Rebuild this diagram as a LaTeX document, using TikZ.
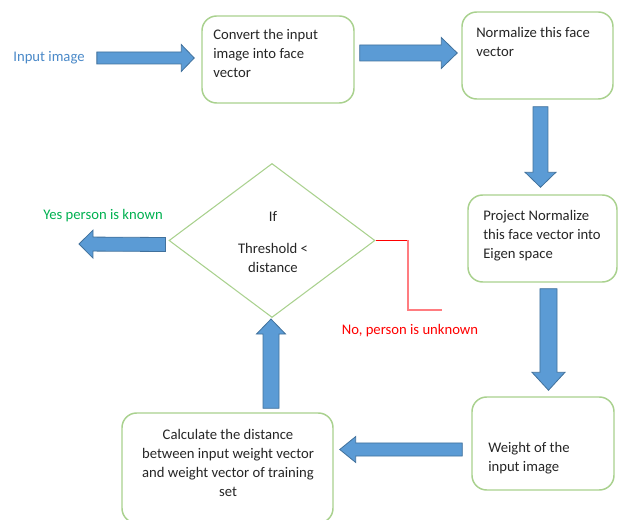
\documentclass[tikz,border=0pt]{standalone}
\usepackage{fontspec}
\setmainfont{Carlito}
\usetikzlibrary{calc,shapes.geometric}
\definecolor{arrfill}{HTML}{5B9BD5}
\definecolor{arrline}{HTML}{41719C}
\definecolor{boxline}{HTML}{A9D18E}
\definecolor{txt}{HTML}{262626}
\definecolor{inblue}{HTML}{4A89C8}
\definecolor{yesgreen}{HTML}{00B050}
\definecolor{nored}{HTML}{FF0000}
\definecolor{nopink}{HTML}{FF7C80}
\newcommand\blockarr[5]{%
  \coordinate (ba-s) at #1;
  \coordinate (ba-t) at #2;
  \coordinate (ba-h) at ($(ba-t)!#5!(ba-s)$);
  \filldraw[barrow] ($(ba-s)!#3!90:(ba-t)$) -- ($(ba-h)!#3!90:(ba-t)$)
    -- ($(ba-h)!#4!90:(ba-t)$) -- (ba-t) -- ($(ba-h)!#4!-90:(ba-t)$)
    -- ($(ba-h)!#3!-90:(ba-t)$) -- ($(ba-s)!#3!-90:(ba-t)$) -- cycle;
}
\begin{document}
\begin{tikzpicture}[x=0.75pt,y=-0.75pt,
  barrow/.style={fill=arrfill,draw=arrline,line width=0.6pt,line join=miter},
  procbox/.style={draw=boxline,line width=1.1pt,rounded corners=11pt,fill=white,inner sep=0pt},
  boxtext/.style={text=txt,inner sep=0pt,font=\fontsize{11}{14.25}\selectfont},
  lbl/.style={inner sep=0pt,font=\fontsize{11}{14.25}\selectfont}]
\useasboundingbox (0,0) rectangle (619,520);
\clip (0,0) rectangle (619,520);
% boxes
\node[procbox,minimum width=114pt,minimum height=65.25pt] (box1) at (278,59.5) {};
\node[procbox,minimum width=113.25pt,minimum height=65.25pt] (box2) at (537.5,55.5) {};
\node[procbox,minimum width=111.75pt,minimum height=65.25pt] (box3) at (542.5,238.5) {};
\node[procbox,minimum width=106.5pt,minimum height=69.75pt] (box4) at (543,443.5) {};
\node[procbox,minimum width=158.25pt,minimum height=82.5pt] (box5) at (227.5,468) {};
\node[diamond,draw=boxline,line width=0.8pt,minimum width=154.5pt,minimum height=115.5pt,inner sep=0pt] (dec) at (272,240.5) {};
% texts
\node[boxtext,anchor=north west,align=left] (t1) at (213,29) {Convert the input\\image into face\\vector};
\node[boxtext,anchor=north west,align=left] (t2) at (476,27) {Normalize this face\\vector};
\node[boxtext,anchor=north west,align=left] (t3) at (483,210) {Project Normalize\\this face vector into\\Eigen space};
\node[boxtext,anchor=north west,align=left] (t4) at (488,442) {Weight of the\\input image};
\node[boxtext,anchor=north,align=center] (t5) at (228,429) {Calculate the distance\\between input weight vector\\and weight vector of training\\set};
\node[boxtext,anchor=north,align=center] (t6) at (273,211) {If\\[9.75pt]Threshold <\\distance};
\node[lbl,text=inblue] (inp) at (49,58) {Input image};
\node[lbl,text=yesgreen] (yes) at (103,216) {Yes person is known};
\node[lbl,text=nored] (no) at (410,331) {No, person is unknown};
% arrows
\blockarr{([shift={(12,0)}]inp.east)}{([shift={(-7,0)}]inp.east -| box1.west)}{4.5pt}{10.1pt}{9.75pt}
\blockarr{([shift={(5,-6.5)}]box1.east)}{([shift={(-4,-2.5)}]box2.west)}{6pt}{11.6pt}{12pt}
\blockarr{([shift={(3,7)}]box2.south)}{([shift={(-2,-7)}]box3.north)}{5.6pt}{11.6pt}{11.25pt}
\blockarr{([shift={(6,6)}]box3.south)}{([shift={(5.5,-6)}]box4.north)}{6.4pt}{12.4pt}{13.5pt}
\blockarr{([shift={(-9,6)}]box4.west)}{([shift={(6,-18.5)}]box5.east)}{4.9pt}{9.75pt}{12pt}
\blockarr{([shift={(43.5,-4)}]box5.north)}{([shift={(-1,1)}]dec.south)}{6pt}{10.9pt}{11.25pt}
\coordinate (yesend) at (79,244);
\blockarr{([shift={(-3,4)}]dec.west)}{(yesend)}{5.25pt}{10.5pt}{10.5pt}
% no branch
\coordinate (nocorner) at (408,240.5);
\coordinate (noend) at (442,310);
\draw[nored,line width=1.1pt] (dec.east) -- (nocorner);
\draw[nopink,line width=1.1pt] (nocorner) -- (nocorner |- noend) -- (noend);
\end{tikzpicture}
\end{document}
